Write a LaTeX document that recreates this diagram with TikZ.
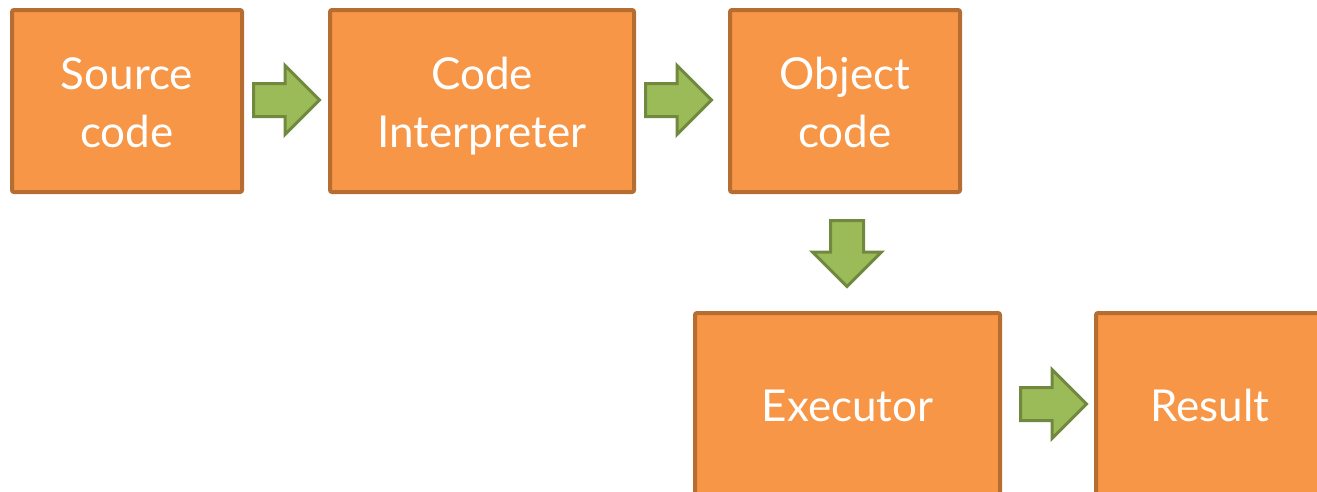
\documentclass[tikz,border=0pt]{standalone}
\usepackage{fontspec}
\setmainfont{Lato}
\usetikzlibrary{shapes.arrows,positioning}
\definecolor{boxfill}{HTML}{F79646}
\definecolor{boxline}{HTML}{B66D31}
\definecolor{arrowfill}{HTML}{9BBB59}
\definecolor{arrowline}{HTML}{71893F}
\begin{document}
\begin{tikzpicture}
    [
      x=1pt,y=1pt,
      stage/.style={draw=boxline,fill=boxfill,line width=4pt,rounded corners=2pt,
        text=white,align=center,font=\fontsize{44}{58}\selectfont,inner sep=0pt,
        text height=32pt,text depth=0pt},
      twoline/.style={text height=92pt},
      flow/.style={single arrow,draw=arrowline,fill=arrowfill,line width=3pt,
        text height=15pt,text depth=15pt,minimum height=66pt,
        single arrow head extend=18pt,inner sep=0pt,anchor=tail},
    ]
    \useasboundingbox (0,0) rectangle (1317,-491);

    \node (source) [stage,twoline,minimum width=230pt,minimum height=182pt] at (127,-101) {Source\\code};

    \node (interp) [stage,twoline,minimum width=304pt,minimum height=182pt] at (482,-101) {Code\\Interpreter};

    \node (object) [stage,twoline,minimum width=230pt,minimum height=182pt] at (845,-101) {Object\\code};

    \node (exec) [stage,minimum width=305pt,minimum height=184pt] at (847.5,-405) {Executor};

    \node (result) [stage,minimum width=228pt,minimum height=184pt] at (1210,-405) {Result};

    \node (a-source) [flow] at (252,-100) {};
    \node (a-interp) [flow] at (644,-100) {};
    \node (a-object) [flow,rotate=-90] at (847,-219) {};
    \node (a-exec) [flow] at (1019,-404) {};

  \end{tikzpicture}
\end{document}
